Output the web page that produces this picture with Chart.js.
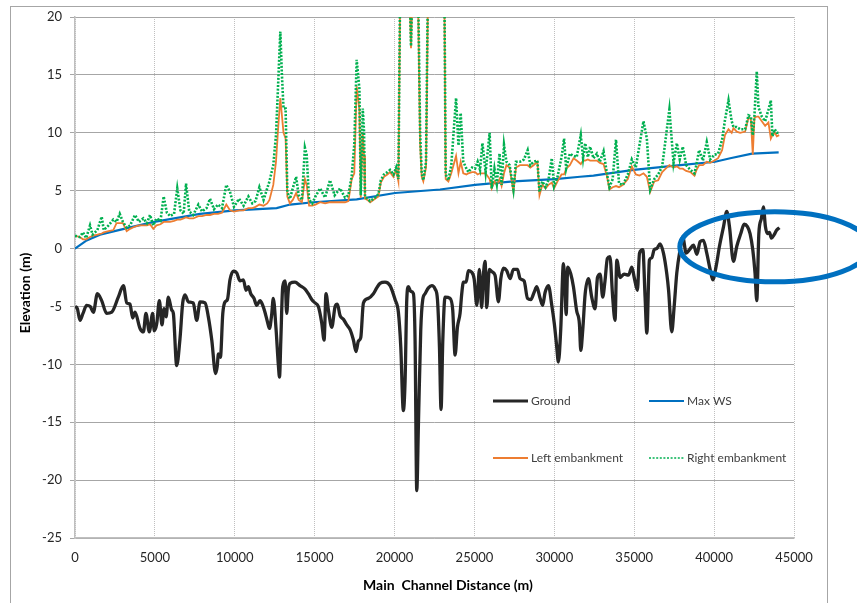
<!DOCTYPE html>
<html>
<head>
<meta charset="utf-8">
<script src="https://cdn.jsdelivr.net/npm/chart.js@4.4.1/dist/chart.umd.min.js"></script>
<style>
html, body { margin: 0; padding: 0; background: #fff; }
#wrap { position: relative; width: 857px; height: 603px; overflow: hidden; }
#frame { position: absolute; left: 10px; top: 6px; width: 816px; height: 640px; border: 1px solid #a6a6a6; }
#chart { position: absolute; left: 0; top: 0; }
</style>
</head>
<body>
<div id="wrap">
  <div id="frame"></div>
  <canvas id="chart" width="857" height="603"></canvas>
</div>
<script>
// ground profile (distance m, elevation m)
const groundX = [0,150,313,500,730,950,1150,1400,1670,1980,2300,2710,3030,3240,3440,3610,3755,4070,4280,4440,4650,4860,4960,5115,5280,5445,5570,5700,5840,6050,6155,6365,6570,6740,6885,7090,7400,7620,7825,8140,8345,8560,8800,8900,8975,9100,9250,9390,9540,9700,9910,10120,10330,10540,10700,10850,11000,11200,11370,11580,11750,11890,12040,12170,12310,12410,12580,12730,12800,12880,13000,13150,13250,13350,13460,13770,14085,14400,14605,14815,15025,15230,15440,15590,15710,15860,16070,16280,16420,16590,16800,17010,17215,17425,17590,17735,17885,18050,18360,18675,18885,19090,19405,19720,20030,20240,20390,20550,20660,20765,20865,21015,21180,21285,21390,21495,21640,21765,21910,22120,22330,22540,22685,22810,22910,23020,23160,23475,23640,23790,23935,24100,24205,24310,24480,24620,24800,24980,25150,25310,25450,25560,25665,25770,25930,26085,26290,26500,26650,26815,27020,27230,27440,27690,27860,28110,28320,28530,28730,28900,29110,29270,29420,29630,29840,30000,30130,30255,30400,30570,30670,30740,30840,31030,31195,31400,31570,31655,31780,31930,32135,32340,32550,32700,32865,33030,33170,33320,33480,33650,33800,33910,34120,34370,34640,34850,35000,35200,35330,35540,35680,35790,35950,36100,36245,36410,36620,36830,37040,37150,37350,37500,37665,37870,38040,38250,38460,38710,38920,39125,39330,39540,39750,39920,40130,40335,40590,40795,40960,41210,41420,41670,41880,42085,42250,42420,42560,42670,42800,42960,43085,43210,43330,43460,43590,43760,43920,44090];
const groundY = [-5.0,-5.2,-6.2,-5.6,-4.9,-5.0,-5.5,-3.9,-4.5,-5.6,-5.5,-4.2,-3.2,-4.7,-4.8,-6.0,-5.5,-6.9,-7.2,-5.6,-7.2,-5.6,-7.1,-6.5,-4.5,-6.6,-5.2,-5.9,-4.2,-5.3,-5.6,-10.1,-7.8,-4.7,-4.0,-4.6,-4.7,-6.2,-4.6,-4.7,-5.9,-7.9,-10.8,-10.2,-9.1,-9.4,-5.6,-4.6,-4.4,-2.7,-1.95,-2.1,-2.8,-2.7,-3.6,-3.3,-3.9,-4.3,-4.9,-4.5,-4.9,-5.5,-6.3,-6.9,-5.7,-4.3,-6.9,-10.1,-11.1,-8.0,-3.3,-2.8,-5.6,-3.6,-3.0,-2.9,-3.2,-3.5,-3.9,-4.4,-4.7,-5.0,-6.4,-7.9,-3.9,-5.3,-6.8,-5.0,-4.8,-5.8,-6.1,-6.6,-7.0,-7.9,-8.9,-8.0,-7.7,-4.7,-4.3,-3.9,-3.4,-3.0,-2.9,-3.2,-4.4,-5.5,-8.5,-14.0,-11.4,-4.4,-3.3,-3.7,-3.9,-8.0,-20.9,-15.1,-7.0,-4.4,-3.9,-3.4,-3.2,-3.5,-4.4,-8.5,-13.9,-7.9,-4.2,-4.3,-5.3,-9.2,-6.8,-5.6,-3.9,-2.9,-2.9,-1.9,-2.0,-2.6,-4.9,-1.8,-5.1,-2.3,-1.1,-5.1,-1.8,-2.0,-2.3,-4.6,-2.6,-1.7,-1.9,-2.6,-1.8,-1.8,-2.6,-2.8,-4.3,-4.4,-3.8,-3.3,-4.3,-4.9,-3.8,-3.2,-4.9,-6.5,-8.2,-9.8,-7.0,-1.3,-3.6,-5.7,-1.6,-2.2,-3.3,-5.4,-6.5,-8.8,-7.0,-3.9,-2.6,-4.2,-5.2,-2.5,-2.2,-4.2,-2.8,-0.85,-0.7,-4.2,-6.2,-1.0,-2.5,-2.2,-2.3,-1.6,-2.5,-3.6,-0.4,-0.1,-4.2,-7.3,-1.0,-0.8,-0.1,0.0,0.4,-0.4,-2.2,-3.6,-7.2,-5.0,-2.1,-0.1,1.0,-0.4,-0.1,0.3,-0.5,0.6,0.7,-0.4,-1.8,-2.7,-1.5,0.2,1.9,3.2,1.9,-1.1,0.2,1.3,2.1,1.9,1.3,-0.1,-2.1,-4.5,1.3,2.6,3.6,1.9,1.3,1.4,0.9,1.2,1.6,1.8];

// maximum water surface
const wsX = [0,730,1565,3650,4960,7825,10015,12620,13460,14920,17630,20030,22850,25040,27440,30050,31610,32450,34960,37880,40070,41010,42370,44040];
const wsY = [0.0,0.7,1.2,1.9,2.3,3.0,3.3,3.5,3.8,4.0,4.25,4.8,5.1,5.5,5.8,6.0,6.2,6.3,6.8,7.2,7.5,7.8,8.2,8.3];

// embankment crests (shared distances)
const bankX = [0,300,500,700,940,1100,1400,1670,1800,2100,2400,2600,2800,3000,3235,3450,3755,4000,4275,4500,4695,4900,5100,5350,5550,5750,5950,6200,6400,6600,6800,6950,7150,7400,7720,7950,8240,8450,8700,8950,9200,9470,9700,9950,10270,10550,10850,11100,11300,11540,11800,12030,12170,12410,12580,12720,12850,12950,13050,13180,13290,13450,13630,13840,14000,14200,14390,14500,14650,14850,15050,15340,15650,15960,16250,16590,16900,17110,17320,17480,17630,17800,17885,18010,18090,18150,18300,18470,18780,18990,19140,19340,19550,19720,19930,20100,20240,20345,20600,20900,21030,21150,21400,21600,21700,21800,21970,22120,22500,22900,23100,23200,23370,23550,23850,24000,24140,24300,24500,24620,24850,25040,25200,25350,25500,25700,25950,26080,26250,26400,26570,26700,26850,27000,27200,27440,27600,27850,28100,28330,28500,28700,28940,29070,29250,29450,29630,29840,29985,30200,30450,30610,30740,30970,31200,31400,31655,31800,31930,32100,32240,32450,32660,32850,33080,33300,33450,33650,33860,34050,34300,34600,34850,35100,35330,35580,35790,36000,36250,36500,36750,36970,37200,37460,37670,37850,38040,38250,38520,38770,38900,39060,39300,39540,39750,40020,40250,40500,40680,40900,41100,41210,41420,41630,41940,42150,42300,42420,42525,42670,42775,42985,43195,43400,43550,43650,43800,43925,44070];
const leftBank = [1.1,1.0,0.8,0.8,1.0,1.1,1.2,1.3,1.4,1.5,1.6,2.2,2.2,2.2,1.5,1.7,1.9,2.0,2.0,2.0,2.1,1.7,2.0,2.1,2.3,2.3,2.3,2.4,2.5,2.5,2.6,2.7,2.6,2.6,2.8,2.8,2.9,2.9,3.0,3.0,3.1,3.8,3.3,3.2,3.3,3.3,3.5,3.5,3.6,3.8,3.7,3.9,4.2,5.5,7.5,10.5,13.0,11.5,10.0,9.5,4.5,3.9,4.2,4.8,4.2,4.0,6.0,5.5,3.7,3.7,3.8,4.0,3.9,4.0,4.0,4.0,4.0,4.1,6.0,6.5,14.0,12.0,4.4,10.0,8.0,4.3,4.2,4.0,4.3,4.5,5.7,6.2,6.4,6.6,6.2,6.8,5.8,21,28,24,17.3,24,28,9.0,6.2,5.8,7.0,25,30,30,25,6.0,5.8,6.5,8.0,6.5,7.5,6.5,6.4,6.5,6.6,6.6,6.4,6.5,6.5,6.5,6.0,5.2,5.8,5.5,6.0,5.4,6.5,7.2,7.0,4.9,7.0,7.2,7.2,7.2,7.0,7.2,7.5,4.6,5.5,5.2,5.5,5.7,5.2,5.8,6.4,6.4,6.9,7.2,7.8,7.6,7.3,7.6,7.6,7.7,7.6,7.6,7.6,7.4,7.3,6.2,5.1,5.3,5.4,5.3,5.5,6.0,7.1,6.4,6.3,6.5,6.2,4.9,5.8,5.9,6.6,6.9,7.2,7.0,7.1,6.9,6.9,6.7,6.6,6.3,6.8,7.2,7.2,7.5,7.4,7.6,7.8,8.5,9.8,10.3,10.0,10.4,10.1,10.0,10.1,11.3,11.2,8.1,11.3,11.4,11.4,11.0,10.6,10.9,9.5,9.8,10.0,9.7,9.8];
const rightBank = [1.1,1.0,1.4,0.9,2.0,1.2,1.6,2.75,1.6,2.0,2.5,2.3,3.0,2.3,1.8,2.0,2.9,2.3,2.6,2.2,2.9,2.0,2.6,2.4,4.5,3.1,2.8,3.0,5.2,3.3,3.0,5.6,3.2,2.9,3.8,3.2,3.5,4.3,3.4,3.8,3.5,5.5,4.9,3.6,4.3,3.7,4.5,3.9,4.1,5.3,4.2,5.2,5.8,7.2,9.8,14.4,18.75,15.0,12.1,12.1,4.9,4.3,5.2,6.2,4.6,4.2,8.7,8.1,4.2,3.9,4.5,5.2,4.4,5.9,4.6,5.2,4.4,4.6,6.3,9.0,16.3,13.8,4.6,12.1,10.1,4.5,4.3,4.1,4.4,4.7,5.9,6.4,6.6,6.8,6.4,7.0,6.0,22,30,25,17.5,25,30,10.0,6.5,5.9,7.5,27,32,32,26,6.4,5.9,7.2,13.0,8.9,11.7,7.5,6.9,6.6,7.0,6.9,7.5,6.8,9.1,6.6,10.0,5.2,6.9,5.6,8.2,5.5,8.95,7.5,7.2,5.1,7.5,7.5,7.7,8.5,7.2,7.5,7.6,4.9,5.8,5.3,5.9,7.8,5.4,6.2,7.9,9.5,6.9,8.2,8.0,7.9,9.8,7.8,9.1,7.9,8.8,7.8,8.2,7.5,8.4,6.4,5.3,6.0,9.4,5.6,5.5,6.4,7.7,7.0,8.95,11.0,9.5,5.1,6.0,6.4,7.1,9.5,12.0,7.4,9.1,7.7,8.8,7.2,6.8,6.5,7.3,8.5,7.6,9.2,7.7,8.1,8.2,9.4,11.1,12.8,11.0,10.5,10.5,10.3,10.3,11.5,11.4,9.8,11.5,15.3,12.2,11.4,11.0,12.0,12.8,9.7,10.3,10.0,10.0];

const font = 'Lato, "Open Sans", sans-serif';
const pts = (xs, ys) => xs.map((x, i) => ({ x: x, y: ys[i] }));

// legend sample widths are thinner than the plotted lines
const legendWidths = [3, 2, 2, 1.5];

const extras = {
  id: 'extras',
  afterDraw(chart) {
    const ctx = chart.ctx;
    const xs = chart.scales.x, ys = chart.scales.y;
    ctx.save();
    // axis titles
    ctx.fillStyle = '#000';
    ctx.font = 'bold 14px ' + font;
    ctx.textAlign = 'center';
    ctx.textBaseline = 'middle';
    ctx.fillText('Main  Channel Distance (m)', 448, 585);
    ctx.translate(25, 293);
    ctx.rotate(-Math.PI / 2);
    ctx.fillText('Elevation (m)', 0, 0);
    ctx.setTransform(1, 0, 0, 1, 0, 0);

    // legend, two columns inside the plot
    const ds = chart.data.datasets;
    const slots = [[493, 401], [649, 401], [493, 458], [649, 458]];
    ctx.font = '12px ' + font;
    ctx.textAlign = 'left';
    ctx.fillStyle = '#404040';
    ds.forEach((d, i) => {
      const [lx, ly] = slots[i];
      ctx.beginPath();
      ctx.strokeStyle = d.borderColor;
      ctx.lineWidth = legendWidths[i];
      ctx.setLineDash(d.borderDash || []);
      ctx.moveTo(lx, ly);
      ctx.lineTo(lx + 35, ly);
      ctx.stroke();
      ctx.setLineDash([]);
      ctx.fillText(d.label, lx + 38, ly);
    });

    // highlight ellipse
    ctx.beginPath();
    ctx.strokeStyle = '#0070C0';
    ctx.lineWidth = 5;
    ctx.ellipse(xs.getPixelForValue(43800), ys.getPixelForValue(0.15), 95, 35, 0, 0, Math.PI * 2);
    ctx.stroke();
    ctx.restore();
  }
};

new Chart(document.getElementById('chart'), {
  type: 'line',
  data: {
    datasets: [
      { label: 'Ground', data: pts(groundX, groundY), borderColor: '#262626', borderWidth: 3.3, cubicInterpolationMode: 'monotone', order: 3 },
      { label: 'Max WS', data: pts(wsX, wsY), borderColor: '#0070C0', borderWidth: 2.2, order: 2 },
      { label: 'Left embankment', data: pts(bankX, leftBank), borderColor: '#ED7D31', borderWidth: 1.8, order: 1 },
      { label: 'Right embankment', data: pts(bankX, rightBank), borderColor: '#00B050', borderWidth: 2.6, borderDash: [2, 1.6], order: 0 }
    ]
  },
  options: {
    responsive: false,
    animation: false,
    devicePixelRatio: 1,
    layout: { padding: { top: 17, right: 63, left: 0, bottom: 0 } },
    elements: { point: { radius: 0 }, line: { tension: 0, fill: false } },
    plugins: { legend: { display: false }, tooltip: { enabled: false } },
    scales: {
      x: {
        type: 'linear', min: 0, max: 45000,
        ticks: { stepSize: 5000, color: '#262626', font: { family: font, size: 13 }, padding: 12, maxRotation: 0, autoSkip: false, callback: v => String(v) },
        grid: { color: '#bfbfbf', drawTicks: false },
        border: { color: '#bfbfbf', width: 1.5, dash: [1, 1] },
        afterFit: s => { s.height = 65; }
      },
      y: {
        min: -25, max: 20,
        ticks: { stepSize: 5, color: '#262626', font: { family: font, size: 13 }, padding: 8, callback: v => String(v) },
        grid: { color: '#a6a6a6', tickLength: 5 },
        border: { color: '#bfbfbf', width: 1.5 },
        afterFit: s => { s.width = 75; }
      }
    }
  },
  plugins: [extras]
});
</script>
</body>
</html>
